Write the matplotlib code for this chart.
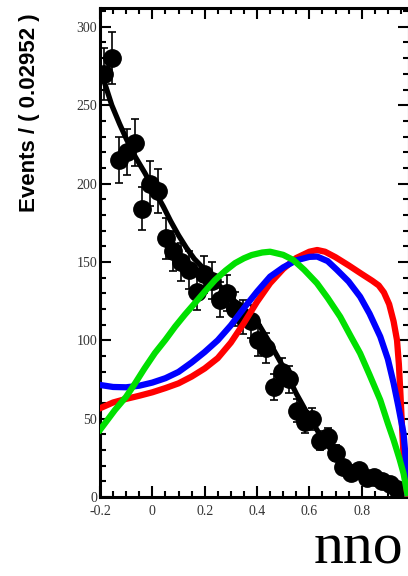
import numpy as np
import matplotlib
matplotlib.use("Agg")
import matplotlib.pyplot as plt
from matplotlib.ticker import MultipleLocator

# ---- data ----
bin_width = 0.02952
x_min = -0.2
n_bins = 40
counts = [270, 280, 215, 220, 226, 184, 200, 195, 165, 157,
          150, 145, 131, 142, 138, 126, 130, 120, 115, 112,
          100, 95, 70, 80, 75, 55, 48, 50, 36, 38,
          28, 19, 15, 17, 12, 13, 10, 8, 5, 3]

fit_x = [-0.2, -0.18, -0.155, -0.125, -0.098, -0.065, -0.028, 0.0, 0.042, 0.07, 0.1, 0.13,
         0.16, 0.2, 0.25, 0.3, 0.35, 0.4, 0.45, 0.5, 0.55, 0.6, 0.65, 0.705, 0.76,
         0.82, 0.87, 0.922, 0.981]
fit_y = [273, 263, 250, 238, 228, 217, 206.6, 198, 185.3, 176, 167, 159,
         152, 145, 136, 127, 120, 112, 98, 83, 66, 51, 37, 25.7, 16,
         10.8, 7, 4, 0]

red_x = [-0.2, -0.15, -0.1, -0.05, 0.0, 0.05, 0.1, 0.15, 0.2, 0.25, 0.3, 0.35, 0.4, 0.45,
         0.5, 0.55, 0.6, 0.63, 0.66, 0.7, 0.75, 0.8, 0.84, 0.865, 0.885, 0.905, 0.922,
         0.935, 0.942, 0.948, 0.955, 0.962, 0.974]
red_y = [56.6, 60.3, 62.6, 64.6, 66.8, 69.5, 72.5, 76.8, 82, 88.6, 98.5, 111, 124.5, 136.4,
         145.5, 152.5, 156.5, 157.6, 156.5, 153, 147.8, 142.3, 138, 135, 130.5, 123, 112,
         100, 85, 66, 42, 20, 2]

blue_x = [-0.2, -0.15, -0.1, -0.05, 0.0, 0.05, 0.1, 0.15, 0.2, 0.25, 0.3, 0.35, 0.4, 0.45,
          0.5, 0.55, 0.6, 0.63, 0.67, 0.705, 0.75, 0.794, 0.83, 0.871, 0.9, 0.922, 0.94,
          0.96, 0.968, 0.975]
blue_y = [71.5, 70.2, 70, 71, 73, 75.8, 79.8, 85.8, 92.5, 100, 109.5, 120.5, 131, 140.6,
          146.5, 151, 153.2, 153.4, 150.5, 145, 137.5, 127.8, 117, 102.3, 88, 72.6, 58,
          40.6, 25, 2.5]

green_x = [-0.2, -0.143, -0.1, -0.066, -0.03, 0.01, 0.05, 0.087, 0.125, 0.163, 0.2, 0.24,
           0.28, 0.316, 0.35, 0.38, 0.42, 0.45, 0.5, 0.539, 0.58, 0.629, 0.67, 0.718,
           0.76, 0.794, 0.83, 0.871, 0.9, 0.922, 0.945, 0.96, 0.974]
green_y = [42.8, 55.5, 64, 72.5, 82, 91.9, 100.3, 108.7, 116.5, 123.8, 131, 138.5,
           144.5, 149.2, 152.3, 154.4, 156, 156.5, 154.5, 151.2, 145, 136.4, 127, 115,
           102, 91.7, 78, 61.9, 47, 36.4, 24, 15, 2.5]

x_ticks = [-0.2, 0, 0.2, 0.4, 0.6, 0.8]
x_tick_labels = ["-0.2", "0", "0.2", "0.4", "0.6", "0.8"]
y_ticks = [0, 50, 100, 150, 200, 250, 300]
y_tick_labels = ["0", "50", "100", "150", "200", "250", "300"]

# ---- figure ----
fig = plt.figure(figsize=(4.08, 5.76), dpi=100)
ax = fig.add_axes([100 / 408, 1 - 497 / 576, 309 / 408, 489 / 576])

centers = x_min + (np.arange(n_bins) + 0.5) * bin_width
counts_arr = np.array(counts, dtype=float)
errs = np.sqrt(counts_arr)

ax.errorbar(centers, counts_arr, yerr=errs, fmt='o', color='black', ms=12.5,
            elinewidth=1.2, capsize=3, capthick=1.2, zorder=3)
ax.plot(fit_x, fit_y, color='black', lw=3.8, zorder=4, solid_joinstyle='round')
ax.plot(red_x, red_y, color='#ff0000', lw=4.5, zorder=5, solid_joinstyle='round')
ax.plot(blue_x, blue_y, color='#0000ff', lw=4.5, zorder=5, solid_joinstyle='round')
ax.plot(green_x, green_y, color='#00e000', lw=4.5, zorder=6, solid_joinstyle='round')

ax.set_xlim(x_min, x_min + n_bins * bin_width)
ax.set_ylim(0, 312)

ax.set_xticks(x_ticks)
ax.set_xticklabels(x_tick_labels)
ax.set_yticks(y_ticks)
ax.set_yticklabels(y_tick_labels)
ax.xaxis.set_minor_locator(MultipleLocator(0.05))
ax.yaxis.set_minor_locator(MultipleLocator(10))
ax.tick_params(which='both', direction='in', top=True, right=True, width=1.5, colors='black')
ax.tick_params(which='major', length=8)
ax.tick_params(which='minor', length=4)
ax.tick_params(axis='x', which='major', pad=6)
ax.tick_params(axis='y', which='major', pad=2)
for lab in ax.get_xticklabels() + ax.get_yticklabels():
    lab.set_family('Liberation Serif')
    lab.set_fontsize(10)
    lab.set_color('#333333')
for sp in ax.spines.values():
    sp.set_linewidth(2.2)

fig.text(30 / 408, 1 - 113 / 576, "Events / ( 0.02952 )", rotation=90,
         ha='center', va='center', family='Liberation Sans', fontweight='bold', fontsize=16)
fig.text(314 / 408, 1 - 563 / 576, "nno", ha='left', va='baseline',
         family='Liberation Serif', fontsize=43)

fig.savefig("out.png", dpi=100)
